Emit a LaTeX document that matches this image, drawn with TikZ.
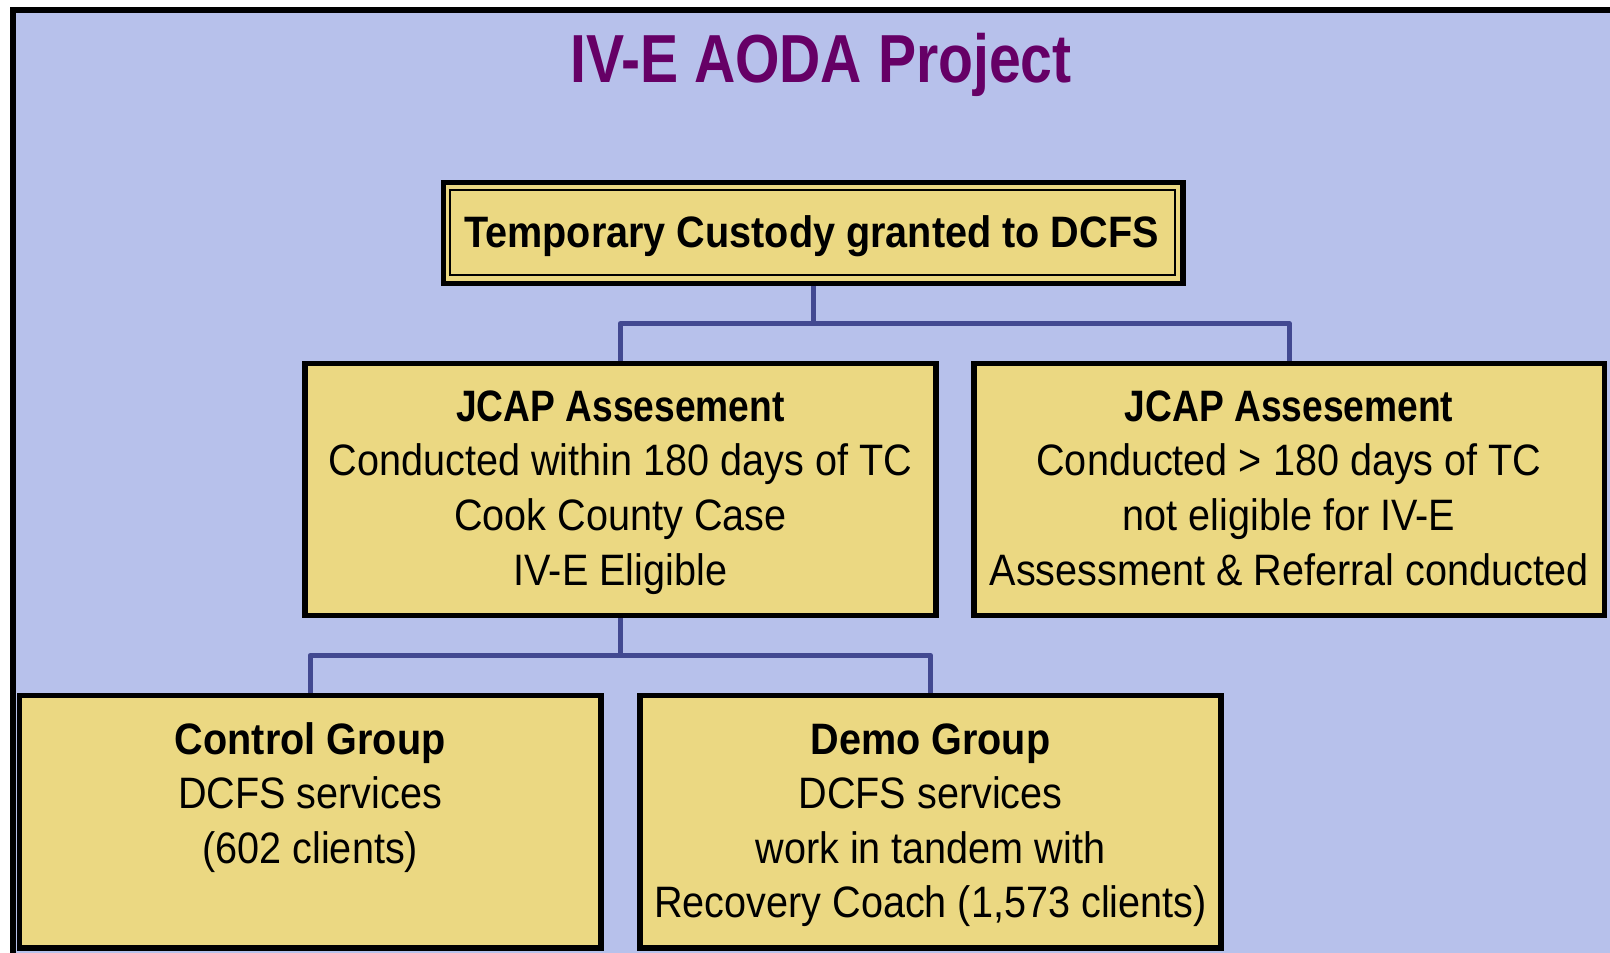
\documentclass[tikz,border=0pt]{standalone}
\usepackage{fontspec}
\setmainfont{Liberation Sans}[FakeStretch=0.9]
\newfontfamily\titlefont{Liberation Sans}[FakeStretch=0.84]
\newfontfamily\narrowhead{Liberation Sans}[FakeStretch=0.845]
\usetikzlibrary{calc,backgrounds}
\definecolor{panelblue}{RGB}{183,193,235}
\definecolor{boxyellow}{RGB}{235,216,130}
\definecolor{linkblue}{RGB}{66,73,145}
\definecolor{titlepurple}{RGB}{102,0,102}
\begin{document}
\begin{tikzpicture}[x=1pt,y=-1pt,
  box/.style={draw=black,line width=5.5pt,fill=boxyellow,inner sep=0pt,outer sep=0pt,rectangle},
  link/.style={draw=linkblue,line width=5.5pt,line join=round},
  txt/.style={anchor=base,inner sep=0pt,font=\fontsize{44}{54}\selectfont},
  head/.style={anchor=base,inner sep=0pt,font=\fontsize{44}{54}\selectfont\bfseries},
  jhead/.style={anchor=base,inner sep=0pt,font=\narrowhead\fontsize{44}{54}\selectfont\bfseries}]
\useasboundingbox (0,0) rectangle (1610,953);
\clip (0,0) rectangle (1610,953);

% panel and frame
\begin{pgfonlayer}{background}
  \fill[white] (0,0) rectangle (1610,953);
  \draw[line width=6pt,fill=panelblue] (13,10) rectangle (1660,1000);
\end{pgfonlayer}

% title
\node[anchor=base,inner sep=0pt,text=titlepurple,
      font=\titlefont\fontsize{68}{80}\selectfont\bfseries] (title) at (821,82) {IV-E AODA Project};

% boxes
\node[box,minimum width=739.3pt,minimum height=101pt] (top) at (813.3,232.8) {};
\draw[line width=2pt] ($(top.north west)+(6,8)$) rectangle ($(top.south east)+(-8.3,-8.3)$);
\node[box,minimum width=631pt,minimum height=252pt] (jin) at (620.5,489.5) {};
\node[box,minimum width=630.5pt,minimum height=252pt] (jout) at (1289.25,489.5) {};
\node[box,minimum width=581.5pt,minimum height=252.5pt] (ctrl) at (310.25,821.75) {};
\node[box,minimum width=581pt,minimum height=252.5pt] (demo) at (930.5,821.75) {};

% connectors
\begin{pgfonlayer}{background}
  \draw[link] (top.south) -- ++(0,40.4) -| (jin.north);
  \draw[link] (top.south) -- ++(0,40.4) -| (jout.north);
  \draw[link] (jin.south) -- ++(0,40) -| (ctrl.north);
  \draw[link] (jin.south) -- ++(0,40) -| (demo.north);
\end{pgfonlayer}

% texts
\node[head] (topt) at (811.5,247.3) {Temporary Custody granted to DCFS};

\node[jhead] (jina) at (620.5,421.5) {JCAP Assesement};
\node[txt]  (jinb) at (620.5,475.5) {Conducted within 180 days of TC};
\node[txt]  (jinc) at (620.5,530) {Cook County Case};
\node[txt]  (jind) at (620.5,585) {IV-E Eligible};

\node[jhead] (jouta) at (1289,421.5) {JCAP Assesement};
\node[txt]  (joutb) at (1289,475.5) {Conducted > 180 days of TC};
\node[txt]  (joutc) at (1289,530) {not eligible for IV-E};
\node[txt]  (joutd) at (1289,585) {Assessment \& Referral conducted};

\node[head] (ctrla) at (310.25,754) {Control Group};
\node[txt]  (ctrlb) at (310.25,808.5) {DCFS services};
\node[txt]  (ctrlc) at (310.25,863) {(602 clients)};

\node[head] (demoa) at (930.5,754) {Demo Group};
\node[txt]  (demob) at (930.5,808.5) {DCFS services};
\node[txt]  (democ) at (930.5,863) {work in tandem with};
\node[txt]  (demod) at (930.5,917) {Recovery Coach (1,573 clients)};
\end{tikzpicture}
\end{document}
